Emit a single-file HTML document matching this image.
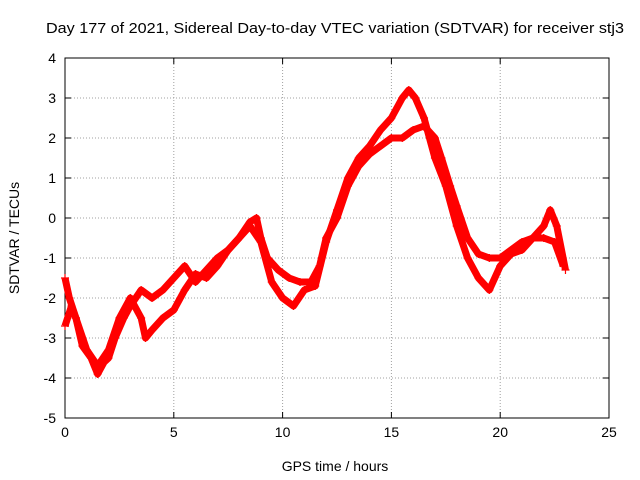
<!DOCTYPE html>
<html><head><meta charset="utf-8"><style>
html,body{margin:0;padding:0;background:#fff;}
svg{display:block;font-family:"Liberation Sans",sans-serif;}
</style></head><body>
<svg id="chart" width="640" height="480">
<text x="335" y="33" font-size="15" text-anchor="middle" textLength="578" lengthAdjust="spacingAndGlyphs">Day 177 of 2021, Sidereal Day-to-day VTEC variation (SDTVAR) for receiver stj3</text>
<g id="grid"></g>
<g id="axes"></g>
<g id="series"></g>
<text x="335" y="471" font-size="14" text-anchor="middle">GPS time / hours</text>
<text transform="translate(19,238) rotate(-90)" font-size="14" text-anchor="middle">SDTVAR / TECUs</text>
</svg>
<script>
const xTicks=[0,5,10,15,20,25];
const yTicks=[-5,-4,-3,-2,-1,0,1,2,3,4];
const t1=[0,0.2,0.5,0.8,1.2,1.5,1.8,2.0,2.3,2.7,3.0,3.5,4.0,4.5,5.0,5.5,6.0,6.5,7.0,7.5,8.0,8.5,8.8,9.0,9.3,9.8,10.3,10.8,11.3,11.7,12.0,12.5,13.0,13.5,14.0,14.5,15.0,15.5,16.0,16.5,17.0,17.3,17.7,18.0,18.5,19.0,19.5,20.0,20.5,21.0,21.5,22.0,22.5,22.9];
const v1=[-1.5,-2.0,-2.5,-3.2,-3.5,-3.9,-3.6,-3.5,-3.0,-2.5,-2.2,-1.8,-2.0,-1.8,-1.5,-1.2,-1.6,-1.3,-1.0,-0.8,-0.5,-0.1,0,-0.5,-1.0,-1.3,-1.5,-1.6,-1.6,-1.2,-0.5,0,0.8,1.3,1.6,1.8,2.0,2.0,2.2,2.3,2.0,1.5,0.8,0.3,-0.5,-0.9,-1.0,-1.0,-0.8,-0.6,-0.5,-0.5,-0.6,-1.2];
const t2=[0,0.3,0.5,1.0,1.5,2.0,2.5,3.0,3.5,3.7,4.0,4.5,5.0,5.5,6.0,6.5,7.0,7.5,8.0,8.5,9.0,9.5,10.0,10.5,11.0,11.5,12.0,12.5,13.0,13.5,14.0,14.5,15.0,15.5,15.8,16.1,16.5,17.0,17.5,18.0,18.5,19.0,19.5,20.0,20.5,21.0,21.5,22.0,22.3,22.6,23.0];
const v2=[-2.7,-2.2,-2.5,-3.3,-3.7,-3.3,-2.5,-2.0,-2.5,-3.0,-2.8,-2.5,-2.3,-1.8,-1.4,-1.5,-1.2,-0.8,-0.5,-0.2,-0.6,-1.6,-2.0,-2.2,-1.8,-1.7,-0.6,0.2,1.0,1.5,1.8,2.2,2.5,3.0,3.2,3.0,2.5,1.5,0.8,-0.2,-1.0,-1.5,-1.8,-1.2,-0.9,-0.8,-0.5,-0.2,0.2,-0.2,-1.3];
const NS='http://www.w3.org/2000/svg';
const L=65,R=609,T=58,B=418;
function sx(v){return L+(v-0)/(25-0)*(R-L);}
function sy(v){return B-(v+5)/9*(B-T);}
const grid=document.getElementById('grid'),axes=document.getElementById('axes'),ser=document.getElementById('series');
function mk(tag,attrs,parent){const e=document.createElementNS(NS,tag);for(const k in attrs)e.setAttribute(k,attrs[k]);parent.appendChild(e);return e;}
xTicks.forEach(v=>{const x=sx(v);
 if(v>0&&v<25){const g=mk('line',{x1:x,x2:x,y1:T,y2:B,stroke:'#a0a0a0','stroke-dasharray':'1,2'},grid);}
 mk('line',{x1:x,x2:x,y1:B,y2:B-6,stroke:'#000'},axes);mk('line',{x1:x,x2:x,y1:T,y2:T+6,stroke:'#000'},axes);
 const t=mk('text',{x:x,y:B+19,'font-size':14,'text-anchor':'middle'},axes);t.textContent=v;
 
 });
yTicks.forEach(v=>{const y=sy(v);
 if(v>-5&&v<4){const g=mk('line',{x1:L,x2:R,y1:y,y2:y,stroke:'#a0a0a0','stroke-dasharray':'1,2'},grid);}
 mk('line',{x1:L,x2:L+6,y1:y,y2:y,stroke:'#000'},axes);mk('line',{x1:R,x2:R-6,y1:y,y2:y,stroke:'#000'},axes);
 const t=mk('text',{x:L-9,y:y+5,'font-size':14,'text-anchor':'end'},axes);t.textContent=v;
 
 });
const fr=mk('rect',{x:L,y:T,width:R-L,height:B-T,fill:'none',stroke:'#000'},axes);


function drawSeries(ts,vs,name){
 const p=mk('polyline',{points:ts.map((t,i)=>sx(t)+','+sy(vs[i])).join(' '),fill:'none',stroke:'#ff0000','stroke-width':7,'stroke-linejoin':'round'},ser);
 
 
 ts.forEach((t,i)=>{const x=sx(t),y=sy(vs[i]);
  const m=mk('path',{d:`M${x-4},${y}H${x+4}M${x},${y-4}V${y+4}`,stroke:'#ff0000','stroke-width':1.2},ser);
  
  });
}
drawSeries(t1,v1,'track-1');
drawSeries(t2,v2,'track-2');
</script>
</body></html>
